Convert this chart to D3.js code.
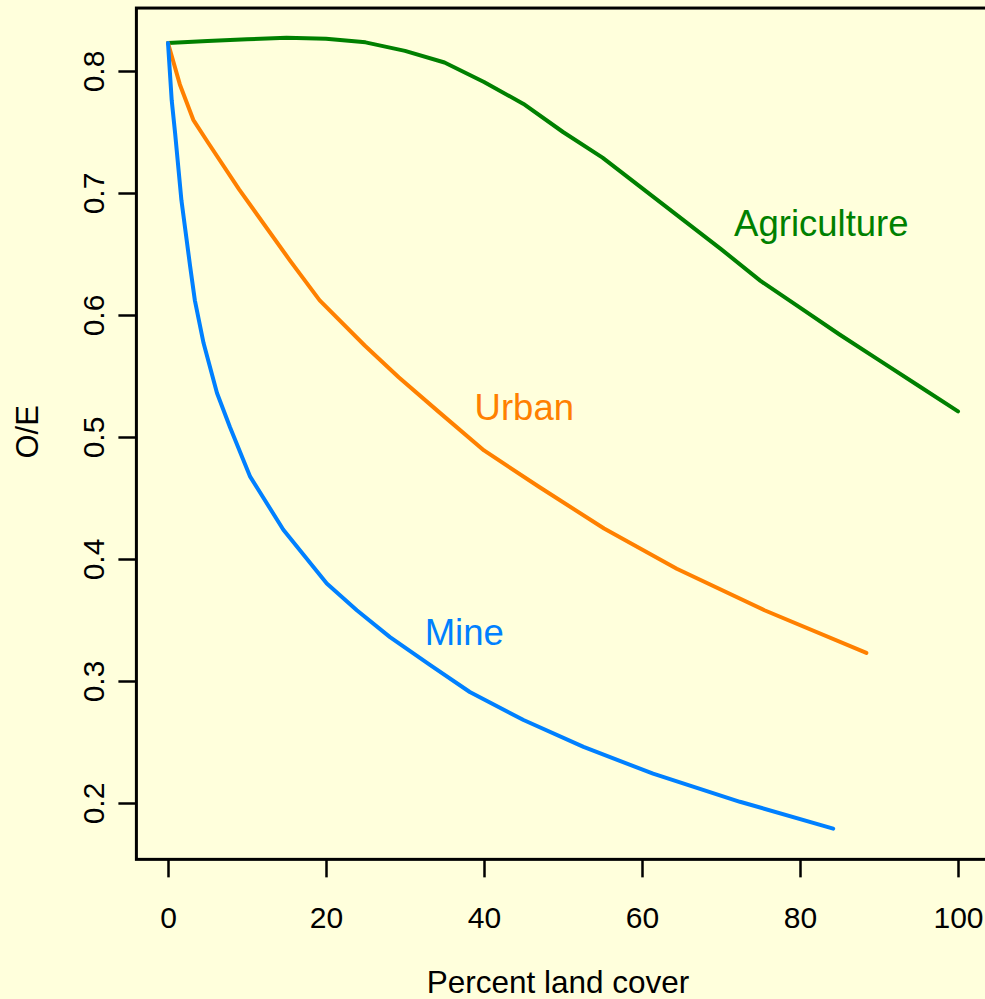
<!DOCTYPE html>
<html>
<head>
<meta charset="utf-8">
<script src="https://cdn.jsdelivr.net/npm/d3@7/dist/d3.min.js"></script>
<style>
body{margin:0;background:#ffffdc;overflow:hidden}
text{font-family:"Liberation Sans",Arial,Helvetica,sans-serif}
</style>
</head>
<body>
<svg id="chart" width="985" height="999"></svg>
<script>
//---data--------------------------
var agriX=[0,5,10,15,20,25,30,35,40,45,50,55,60,65,70,75,80,85,90,95,100]
var agriY=[0.823,0.8245,0.826,0.8273,0.8265,0.8235,0.8165,0.807,0.791,0.773,0.750,0.729,0.704,0.679,0.654,0.628,0.606,0.584,0.563,0.542,0.521]

var urbanX=[0,1.5,3.2,5,9,15.4,19.2,24.9,29.2,34.2,40,47,55.2,64.4,75.5,88.4]
var urbanY=[0.823,0.789,0.760,0.742,0.703,0.645,0.612,0.575,0.549,0.521,0.489,0.459,0.425,0.392,0.358,0.323]

var mineX=[0,0.47,0.9,1.7,2.8,3.4,4.5,6.2,7.85,10.4,14.6,20.1,23.9,28.1,33.2,38.2,45,52.6,61.4,72.4,84.2]
var mineY=[0.823,0.776,0.749,0.694,0.640,0.612,0.577,0.536,0.508,0.4675,0.424,0.380,0.358,0.336,0.313,0.291,0.268,0.246,0.224,0.201,0.179]

var xTicks=[0,20,40,60,80,100]
var yTicks=[0.2,0.3,0.4,0.5,0.6,0.7,0.8]

var seriesNames=["Agriculture","Urban","Mine"]
var seriesColors=["#008000","#ff8000","#0080ff"]
// label anchor points, in data units
var labelX=[82.7,45.1,37.5]
var labelY=[0.6754,0.5248,0.3406]

var series=[
  {x:agriX,y:agriY},
  {x:urbanX,y:urbanY},
  {x:mineX,y:mineY}
]

var xScale=d3.scaleLinear()
    .domain([0,100])
    .range([168,958])
var yScale=d3.scaleLinear()
    .domain([0.2,0.8])
    .range([803,71])

// R style usr range (data range + 4%)
var usrX=[-4,104]
var usrY=[0.1538,0.8516]

var svg=d3.select("#chart")

svg.append("rect")
 .attr("width",985)
 .attr("height",999)
 .attr("fill","#ffffdc")

//---curves-----
var line=d3.line()
    .x(function(d){return xScale(d[0])})
    .y(function(d){return yScale(d[1])})

series.forEach(function(s,k){
  var pts=s.x.map(function(v,i){return [v,s.y[i]]})
  svg.append("path")
   .datum(pts)
   .attr("fill","none")
   .attr("stroke",seriesColors[k])
   .attr("stroke-width",4)
   .attr("stroke-linejoin","round")
   .attr("stroke-linecap","round")
   .attr("d",line)

  svg.append("text")
   .attr("x",xScale(labelX[k]))
   .attr("y",yScale(labelY[k]))
   .attr("dy","0.36em")
   .attr("text-anchor","middle")
   .attr("font-size","36.5px")
   .attr("fill",seriesColors[k])
   .text(seriesNames[k])
})

//---box-----
var bx0=xScale(usrX[0]),bx1=xScale(usrX[1])
var by0=yScale(usrY[1]),by1=yScale(usrY[0])
svg.append("rect")
 .attr("x",bx0)
 .attr("y",by0)
 .attr("width",bx1-bx0)
 .attr("height",by1-by0)
 .attr("fill","none")
 .attr("stroke","black")
 .attr("stroke-width",3)

//---axes-----
var xAxis=svg.append("g")
    .attr("transform","translate(0,"+by1+")")
    .call(d3.axisBottom(xScale).tickValues(xTicks).tickSize(18).tickFormat(d3.format("d")))
xAxis.select(".domain").remove()
xAxis.selectAll("line").attr("stroke-width",2.5)
xAxis.selectAll("text")
    .attr("font-size","30px")
    .attr("fill","black")
    .attr("font-family",null)
    .attr("dy",null)
    .attr("y",69)

var yAxis=svg.append("g")
    .attr("transform","translate("+bx0+",0)")
    .call(d3.axisLeft(yScale).tickValues(yTicks).tickSize(18).tickFormat(d3.format(".1f")))
yAxis.select(".domain").remove()
yAxis.selectAll("line").attr("stroke-width",2.5)
yAxis.selectAll("text")
    .attr("font-size","30px")
    .attr("fill","black")
    .attr("font-family",null)
    .attr("x",null)
    .attr("dy",null)
    .attr("text-anchor","middle")
    .attr("transform","translate(-32,0)rotate(-90)")

//---axis titles-----
svg.append("text")
 .attr("x",558)
 .attr("y",993)
 .attr("text-anchor","middle")
 .attr("font-size","31.5px")
 .attr("fill","black")
 .text("Percent land cover")

svg.append("text")
 .attr("transform","translate(38,"+yScale(0.5042)+")rotate(-90)")
 .attr("text-anchor","middle")
 .attr("font-size","31px")
 .attr("fill","black")
 .text("O/E")
</script>
</body>
</html>
